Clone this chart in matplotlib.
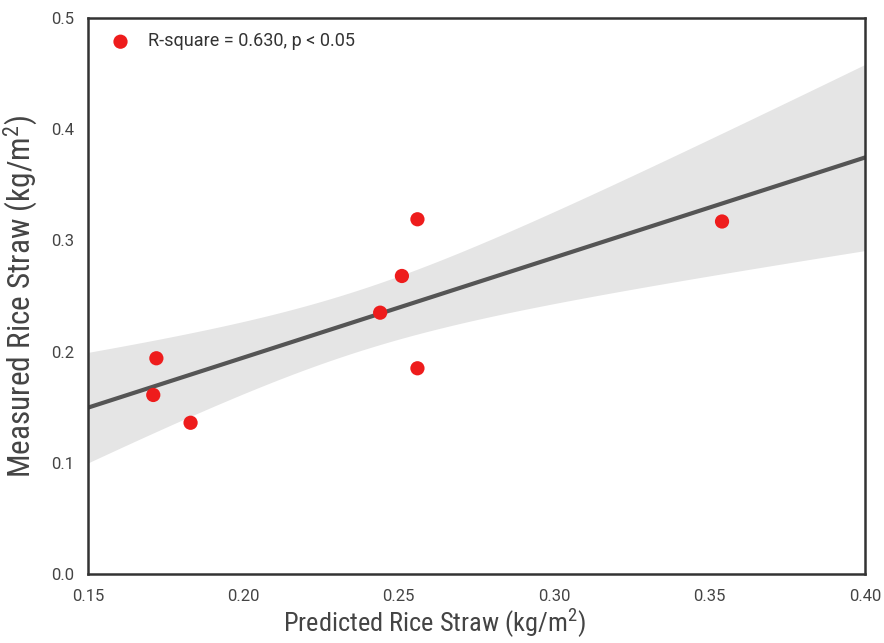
import numpy as np
import matplotlib
matplotlib.use("Agg")
import matplotlib.pyplot as plt
from matplotlib.ticker import FormatStrFormatter

# values
predicted = [0.171, 0.172, 0.183, 0.244, 0.251, 0.256, 0.256, 0.354]
measured = [0.161, 0.194, 0.136, 0.235, 0.268, 0.319, 0.185, 0.317]
x_ticks = [0.15, 0.20, 0.25, 0.30, 0.35, 0.40]
y_ticks = [0.0, 0.1, 0.2, 0.3, 0.4, 0.5]
legend_text = "R-square = 0.630, p < 0.05"

plt.rcParams['font.family'] = ['Roboto', 'Liberation Sans', 'DejaVu Sans']
plt.rcParams['mathtext.fontset'] = 'custom'
plt.rcParams['mathtext.rm'] = 'Roboto Condensed'
cond = ['Roboto Condensed', 'Liberation Sans Narrow', 'Liberation Sans', 'DejaVu Sans']

x = np.array(predicted)
y = np.array(measured)

# least squares fit, band roughly like a bootstrap 95% interval
n = len(x)
slope, icpt = np.polyfit(x, y, 1)
xs = np.linspace(0.15, 0.40, 200)
fit = slope * xs + icpt
resid = y - (slope * x + icpt)
s = np.sqrt(np.sum(resid ** 2) / n)
sxx = np.sum((x - x.mean()) ** 2)
half = 1.96 * s * np.sqrt(1.0 / n + (xs - x.mean()) ** 2 / sxx)

fig = plt.figure(figsize=(8.84, 6.43), dpi=100)
ax = fig.add_axes([88 / 884, 1 - 574 / 643, 777 / 884, 556 / 643])

ax.fill_between(xs, fit - half, fit + half, color='#e5e5e5', lw=0, zorder=1)
ax.plot(xs, fit, color='#555555', lw=3, zorder=2)
ax.scatter(x, y, s=105, color='#ee1c1c', edgecolors='none', zorder=3,
           label=legend_text)

ax.set_xlim(0.15, 0.40)
ax.set_ylim(0.0, 0.5)
ax.set_xticks(x_ticks)
ax.set_yticks(y_ticks)
ax.xaxis.set_major_formatter(FormatStrFormatter('%.2f'))
ax.yaxis.set_major_formatter(FormatStrFormatter('%.1f'))
ax.tick_params(length=0, labelsize=12, colors='#444444')
ax.tick_params(axis='x', pad=11)
ax.tick_params(axis='y', pad=10)

for sp in ax.spines.values():
    sp.set_color('#333333')
    sp.set_linewidth(1.8)

ax.set_xlabel('Predicted Rice Straw (kg/m$^\\mathregular{2}$)', fontsize=19,
              color='#444444', family=cond, va='top')
ax.set_ylabel('Measured Rice Straw (kg/m$^\\mathregular{2}$)', fontsize=22.5,
              color='#444444', family=cond)
ax.xaxis.set_label_coords(0.446, -0.058)
ax.yaxis.set_label_coords(-0.062, 0.5)

leg = ax.legend(loc='upper left', frameon=False,
                prop={'family': ['Roboto', 'Liberation Sans', 'DejaVu Sans'], 'size': 13},
                handletextpad=0.5, borderaxespad=0.3, borderpad=0.5)
for txt in leg.get_texts():
    txt.set_color('#333333')

fig.savefig('out.png', dpi=100)
